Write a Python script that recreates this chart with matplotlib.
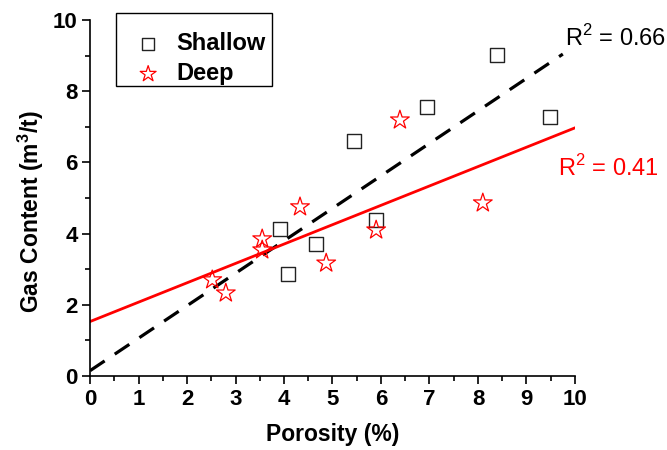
import matplotlib
matplotlib.use("Agg")
import matplotlib.pyplot as plt
import matplotlib.patches as mpatches
from matplotlib.ticker import MultipleLocator
import numpy as np

plt.rcParams["font.family"] = ["Liberation Sans", "DejaVu Sans"]
plt.rcParams["mathtext.fontset"] = "custom"
plt.rcParams["mathtext.rm"] = "Liberation Sans"
plt.rcParams["mathtext.bf"] = "Liberation Sans:bold"

# 数据
shallow_x = [3.92, 4.08, 4.66, 5.44, 5.90, 6.95, 8.39, 9.48]
shallow_y = [4.13, 2.87, 3.71, 6.60, 4.38, 7.56, 9.02, 7.28]
deep_x = [2.52, 2.80, 3.55, 3.55, 4.33, 4.87, 5.90, 6.39, 8.10]
deep_y = [2.70, 2.33, 3.85, 3.54, 4.75, 3.17, 4.10, 7.19, 4.86]

# 拟合线 (斜率, 截距, x范围)
shallow_fit = (0.912, 0.15, (0, 9.75))
deep_fit = (0.544, 1.53, (0, 10))
r2_shallow = 0.66
r2_deep = 0.41


def draw():
    fig = plt.figure(figsize=(6.67, 4.5), dpi=100)
    ax = fig.add_axes([0.135, 0.1644, 0.727, 0.7912])

    ax.scatter(shallow_x, shallow_y, marker="s", s=95, facecolor="white",
               edgecolor="#222222", linewidth=1.0, zorder=3, label="Shallow")
    ax.scatter(deep_x, deep_y, marker="*", s=200, facecolor="none",
               edgecolor="red", linewidth=0.9, zorder=4, label="Deep")

    k, b, (x0, x1) = shallow_fit
    xs = np.array([x0, x1])
    ax.plot(xs, k * xs + b, color="black", lw=2.3, ls=(0, (5.5, 3.8)), zorder=2)
    k, b, (x0, x1) = deep_fit
    xs = np.array([x0, x1])
    ax.plot(xs, k * xs + b, color="red", lw=2.0, zorder=2)

    ax.text(0.979, 0.95, rf"R$^2$ = {r2_shallow:.2f}", transform=ax.transAxes,
            fontsize=17, color="black", ha="left", va="center", clip_on=False)
    ax.text(0.966, 0.585, rf"R$^2$ = {r2_deep:.2f}", transform=ax.transAxes,
            fontsize=17, color="red", ha="left", va="center", clip_on=False)

    ax.set_xlim(0, 10)
    ax.set_ylim(0, 10)
    ax.xaxis.set_major_locator(MultipleLocator(1))
    ax.xaxis.set_minor_locator(MultipleLocator(0.5))
    ax.yaxis.set_major_locator(MultipleLocator(2))
    ax.yaxis.set_minor_locator(MultipleLocator(1))
    ax.spines["top"].set_visible(False)
    ax.spines["right"].set_visible(False)
    for s in ("left", "bottom"):
        ax.spines[s].set_linewidth(1.2)
    ax.tick_params(which="major", direction="out", length=6, width=1.2,
                   labelsize=16, pad=3)
    ax.tick_params(which="minor", direction="out", length=3.5, width=1.2)
    for lab in ax.get_xticklabels() + ax.get_yticklabels():
        lab.set_fontweight("bold")

    ax.set_xlabel("Porosity (%)", fontsize=16.5, fontweight="bold", labelpad=10)
    ax.set_ylabel(r"Gas Content (m$^\mathbf{3}$/t)", fontsize=16.5,
                  fontweight="bold")
    ax.yaxis.set_label_coords(-0.09, 0.461)

    # 图例：外框单独画
    frame = mpatches.Rectangle((0.0536, 0.8146), 0.3214, 0.2051,
                               transform=ax.transAxes, facecolor="white",
                               edgecolor="black", linewidth=1.0,
                               clip_on=False, zorder=5)
    ax.add_patch(frame)
    leg = ax.legend(loc="upper left", bbox_to_anchor=(0.076, 0.966),
                    frameon=False, prop={"weight": "bold", "size": 17},
                    handletextpad=0.3, borderpad=0, borderaxespad=0,
                    labelspacing=0.3, handlelength=1.8, markerscale=0.85)
    leg.set_zorder(6)

    fig.savefig("out.png", dpi=100, facecolor="white")
    plt.close(fig)


if __name__ == "__main__":
    draw()
